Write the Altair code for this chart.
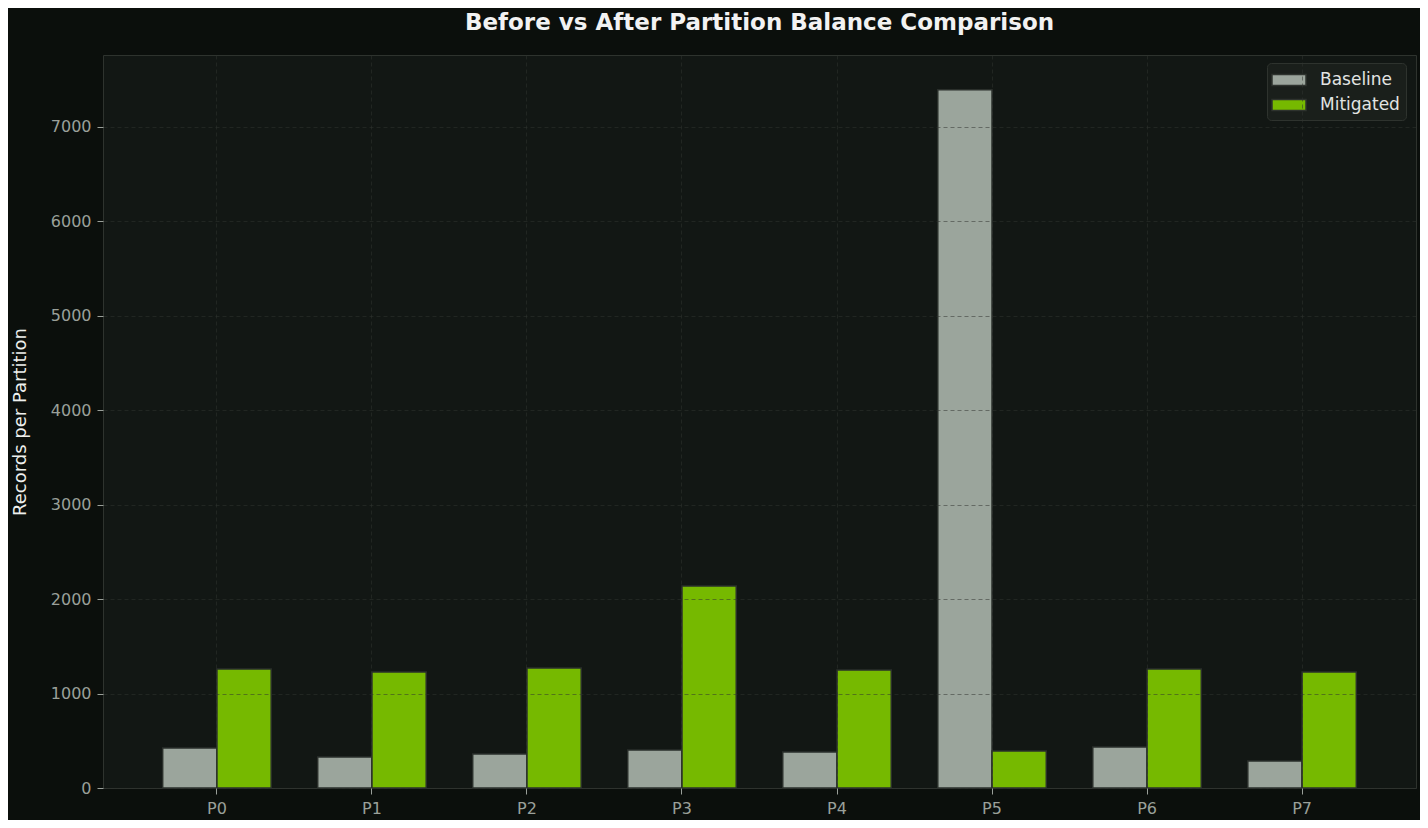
import altair as alt
import pandas as pd

# values
partitions = ["P0", "P1", "P2", "P3", "P4", "P5", "P6", "P7"]
series_names = ["Baseline", "Mitigated"]
baseline = [424, 328, 360, 402, 381, 7395, 434, 286]
mitigated = [1260, 1228, 1271, 2139, 1250, 392, 1260, 1228]
y_ticks = [0, 1000, 2000, 3000, 4000, 5000, 6000, 7000]
bar_colors = ["#9ba59c", "#76b900"]

rows = []
for p, b, m in zip(partitions, baseline, mitigated):
    rows.append({"partition": p, "series": "Baseline", "records": b})
    rows.append({"partition": p, "series": "Mitigated", "records": m})
df = pd.DataFrame(rows)

FONT = "DejaVu Sans"

chart = alt.Chart(df).mark_bar(
    stroke="#2a2f2b",
    strokeWidth=1.5
).encode(
    x=alt.X(
        "partition:N",
        sort=partitions,
        scale=alt.Scale(paddingInner=0.3, paddingOuter=0.385),
        axis=alt.Axis(title=None, labelAngle=0, grid=True, bandPosition=0.5, zindex=1)
    ),
    xOffset=alt.XOffset(
        "series:N",
        sort=series_names,
        scale=alt.Scale(paddingInner=0, paddingOuter=0)
    ),
    y=alt.Y(
        "records:Q",
        scale=alt.Scale(domain=[0, 7762], nice=False),
        axis=alt.Axis(values=y_ticks, format="d", title="Records per Partition",
                      zindex=1, titlePadding=21)
    ),
    color=alt.Color(
        "series:N",
        sort=series_names,
        scale=alt.Scale(domain=series_names, range=bar_colors),
        legend=alt.Legend(
            title=None,
            orient="none",
            legendX=1164,
            legendY=8,
            fillColor="#1a1f1b",
            strokeColor="#2e332e",
            cornerRadius=4,
            padding=6,
            labelColor="#e2e4e2",
            labelFont=FONT,
            labelFontSize=17,
            labelOffset=25,
            # wide flat patch, left-aligned on the symbol slot
            symbolType="M-1.2,-0.55L2.2,-0.55L2.2,0.55L-1.2,0.55Z",
            symbolSize=400,
            symbolStrokeColor="#2e332e",
            symbolStrokeWidth=1.5,
            symbolOpacity=1,
            rowPadding=5
        )
    ),
    tooltip=[
        alt.Tooltip("partition:N", title="Partition"),
        alt.Tooltip("series:N", title="Series"),
        alt.Tooltip("records:Q", title="Records")
    ]
).properties(
    title=alt.TitleParams(
        "Before vs After Partition Balance Comparison",
        font=FONT,
        fontSize=23,
        fontWeight="bold",
        color="#f2f2f2",
        offset=20
    ),
    width=1313,
    height=733,
    autosize=alt.AutoSizeParams(type="none"),
    padding={"left": 95, "top": 47, "right": 4, "bottom": 32},
    background="#0b0f0c"
).configure_view(
    fill="#121714",
    stroke="#2e332e",
    strokeWidth=1
).configure_axis(
    labelFont=FONT,
    labelFontSize=16,
    labelColor="#9aa09a",
    labelPadding=6,
    titleFont=FONT,
    titleFontSize=18,
    titleFontWeight="normal",
    titleColor="#eef0ee",
    domain=False,
    tickColor="#9aa09a",
    tickSize=6,
    tickWidth=1,
    gridColor="#303530",
    gridOpacity=0.65,
    gridDash=[4, 3],
    gridWidth=0.8
)

chart.save("out.html", embed_options={"renderer": "svg", "actions": False})
